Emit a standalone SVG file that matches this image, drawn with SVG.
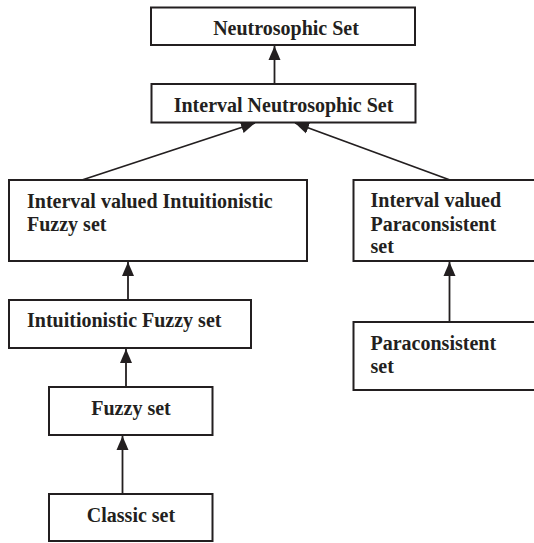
<svg xmlns="http://www.w3.org/2000/svg" width="534" height="543" viewBox="0 0 534 543">
  <style>
    .box { fill: #ffffff; stroke: #231f20; stroke-width: 2; }
    .lbl { font-family: "Liberation Serif", "Times New Roman", serif; font-weight: bold; font-size: 20px; fill: #231f20; }
    .mid { text-anchor: middle; }
    .edge { stroke: #231f20; stroke-width: 1.8; fill: none; marker-end: url(#arrow); }
  </style>
  <defs>
    <marker id="arrow" markerUnits="userSpaceOnUse" markerWidth="14" markerHeight="14" viewBox="0 0 14 12" refX="14" refY="6" orient="auto">
      <path d="M0,0 L14,6 L0,12 Z" fill="#231f20"/>
    </marker>
  </defs>
  <rect width="534" height="543" fill="#ffffff"/>

  <g id="connectors">
    <line class="edge" x1="274.5" y1="84" x2="274.5" y2="46"/>
    <line class="edge" x1="82" y1="180" x2="255" y2="123"/>
    <line class="edge" x1="450" y1="180" x2="295" y2="123"/>
    <line class="edge" x1="128" y1="300" x2="128" y2="262"/>
    <line class="edge" x1="449.5" y1="322" x2="449.5" y2="262"/>
    <line class="edge" x1="126" y1="387" x2="126" y2="349"/>
    <line class="edge" x1="122.5" y1="494" x2="122.5" y2="436"/>
  </g>

  <g id="neutrosophic">
    <rect class="box" x="151" y="7.5" width="264" height="37.5"/>
    <text class="lbl mid" x="286" y="35">Neutrosophic Set</text>
  </g>
  <g id="interval-neutrosophic">
    <rect class="box" x="151.5" y="84" width="264" height="38.5"/>
    <text class="lbl mid" x="283.5" y="111.5">Interval Neutrosophic Set</text>
  </g>
  <g id="iv-intuitionistic">
    <rect class="box" x="9" y="180" width="298" height="81"/>
    <text class="lbl" x="27" y="208">Interval valued Intuitionistic</text>
    <text class="lbl" x="27" y="231">Fuzzy set</text>
  </g>
  <g id="iv-paraconsistent">
    <rect class="box" x="353.5" y="180" width="190" height="81"/>
    <text class="lbl" x="370.5" y="207">Interval valued</text>
    <text class="lbl" x="370.5" y="230.5">Paraconsistent</text>
    <text class="lbl" x="370.5" y="253">set</text>
  </g>
  <g id="intuitionistic">
    <rect class="box" x="9" y="300" width="242" height="48"/>
    <text class="lbl" x="27" y="327">Intuitionistic Fuzzy set</text>
  </g>
  <g id="paraconsistent">
    <rect class="box" x="353.5" y="322" width="190" height="68"/>
    <text class="lbl" x="370.5" y="350">Paraconsistent</text>
    <text class="lbl" x="370.5" y="372.5">set</text>
  </g>
  <g id="fuzzy">
    <rect class="box" x="49" y="387" width="163.5" height="48"/>
    <text class="lbl mid" x="131" y="415">Fuzzy set</text>
  </g>
  <g id="classic">
    <rect class="box" x="49" y="494" width="163.5" height="47"/>
    <text class="lbl mid" x="131" y="521.5">Classic set</text>
  </g>
</svg>
